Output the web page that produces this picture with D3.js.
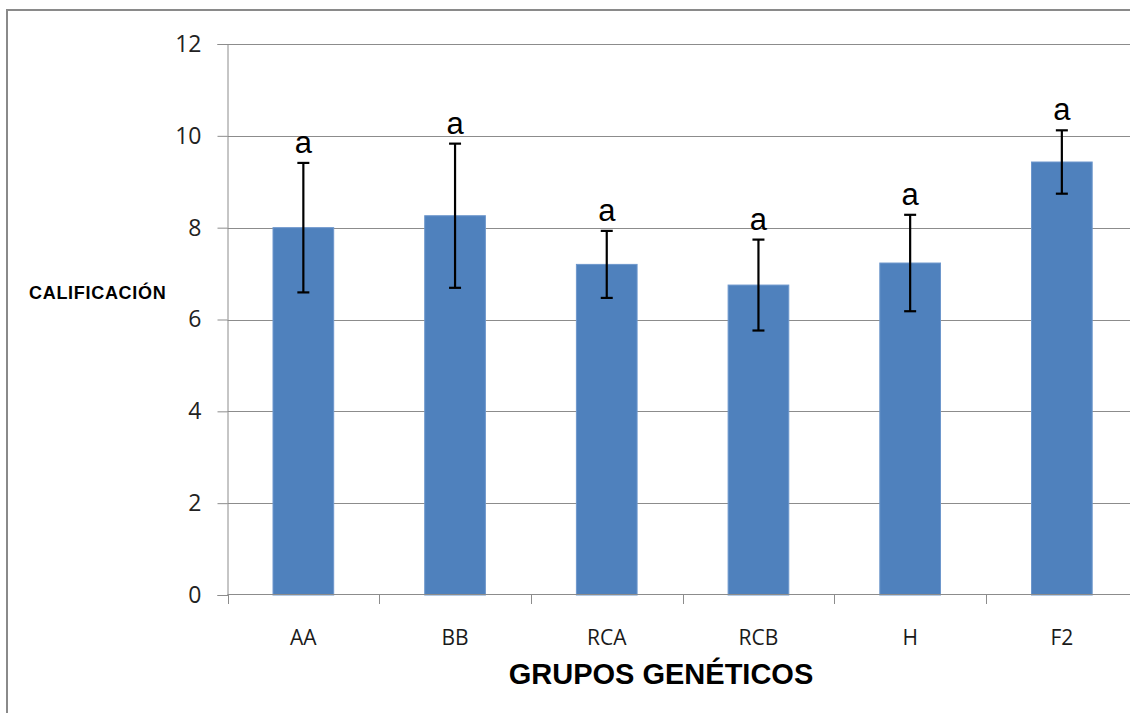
<!DOCTYPE html>
<html>
<head>
<meta charset="utf-8">
<script src="https://cdn.jsdelivr.net/npm/d3@7/dist/d3.min.js"></script>
<style>
  html, body { margin: 0; padding: 0; background: #fff; }
  svg { display: block; }
</style>
</head>
<body>
<svg id="chart" width="1130" height="713"></svg>
<script>
// Calificación media por grupo genético, con desviación y letra de significancia
const categories = ["AA", "BB", "RCA", "RCB", "H", "F2"];
const means = [8.0, 8.26, 7.2, 6.75, 7.23, 9.43];
const errors = [1.41, 1.57, 0.73, 0.99, 1.05, 0.69];
const letters = ["a", "a", "a", "a", "a", "a"];
const yTicks = [0, 2, 4, 6, 8, 10, 12];

(function draw() {
  const svg = d3.select("#chart");
  const W = 1130, H = 713;

  // outer frame
  svg.append("rect")
    .attr("x", 7).attr("y", 10)
    .attr("width", W + 20).attr("height", H + 20)
    .attr("fill", "#fff")
    .attr("stroke", "#8a8a8a")
    .attr("stroke-width", 2);

  const plotLeft = 227.5, plotTop = 44, plotBottom = 595;
  const step = 151.7;
  const plotRight = plotLeft + step * categories.length;

  const x = d3.scaleBand().domain(categories).range([plotLeft, plotRight]).padding(0);
  const y = d3.scaleLinear().domain([0, 12]).range([plotBottom, plotTop]);
  const barW = x.bandwidth() * 0.4;

  const grid = "#8c8c8c";

  // horizontal gridlines
  svg.append("g")
    .selectAll("line")
    .data(yTicks.filter(t => t > 0))
    .join("line")
    .attr("x1", plotLeft).attr("x2", plotRight)
    .attr("y1", d => Math.round(y(d)) + 0.5)
    .attr("y2", d => Math.round(y(d)) + 0.5)
    .attr("stroke", grid).attr("stroke-width", 1);

  // y axis
  const yAxis = svg.append("g")
    .attr("transform", `translate(${plotLeft},0)`)
    .call(d3.axisLeft(y).tickValues(yTicks).tickSize(10).tickPadding(16).tickFormat(d3.format("d")));
  yAxis.select(".domain").attr("stroke", grid);
  yAxis.selectAll(".tick line").attr("stroke", grid);
  yAxis.selectAll(".tick text")
    .attr("font-family", "'Open Sans', sans-serif")
    .attr("font-size", 23)
    .attr("fill", "#222");

  // bars
  svg.append("g")
    .selectAll("rect")
    .data(categories)
    .join("rect")
    .attr("x", d => x(d) + (x.bandwidth() - barW) / 2)
    .attr("width", barW)
    .attr("y", (d, i) => y(means[i]))
    .attr("height", (d, i) => y(0) - y(means[i]))
    .attr("fill", "#4f81bd")
    .attr("stroke", "#6d97cc")
    .attr("stroke-width", 1);

  // x axis with ticks at category boundaries
  svg.append("line")
    .attr("x1", plotLeft).attr("x2", plotRight)
    .attr("y1", plotBottom - 0.5).attr("y2", plotBottom - 0.5)
    .attr("stroke", grid).attr("stroke-width", 1);
  const bounds = categories.map(c => x(c)).concat([plotRight]);
  svg.append("g")
    .selectAll("line")
    .data(bounds)
    .join("line")
    .attr("x1", d => Math.round(d) + 0.5).attr("x2", d => Math.round(d) + 0.5)
    .attr("y1", plotBottom - 0.5).attr("y2", plotBottom + 9)
    .attr("stroke", grid);

  svg.append("g")
    .selectAll("text")
    .data(categories)
    .join("text")
    .attr("x", d => x(d) + x.bandwidth() / 2)
    .attr("y", 645)
    .attr("text-anchor", "middle")
    .attr("font-family", "'Open Sans', sans-serif")
    .attr("font-size", 21)
    .attr("fill", "#1a1a1a")
    .text(d => d);

  // error bars
  const eb = svg.append("g").attr("stroke", "#000").attr("stroke-width", 2.2);
  categories.forEach((c, i) => {
    const cx = x(c) + x.bandwidth() / 2;
    const hi = y(means[i] + errors[i]);
    const lo = y(means[i] - errors[i]);
    eb.append("line").attr("x1", cx).attr("x2", cx).attr("y1", hi).attr("y2", lo);
    eb.append("line").attr("x1", cx - 6).attr("x2", cx + 6).attr("y1", hi).attr("y2", hi);
    eb.append("line").attr("x1", cx - 6).attr("x2", cx + 6).attr("y1", lo).attr("y2", lo);
  });

  // significance letters
  svg.append("g")
    .selectAll("text")
    .data(categories)
    .join("text")
    .attr("x", d => x(d) + x.bandwidth() / 2)
    .attr("y", (d, i) => y(means[i] + errors[i]) - 10)
    .attr("text-anchor", "middle")
    .attr("font-family", "'Liberation Sans', Arial, sans-serif")
    .attr("font-size", 31)
    .attr("fill", "#000")
    .text((d, i) => letters[i]);

  // axis titles
  svg.append("text")
    .attr("x", 29).attr("y", 299)
    .attr("font-family", "'Liberation Sans', Arial, sans-serif")
    .attr("font-weight", "bold")
    .attr("font-size", 18)
    .attr("letter-spacing", 0.7)
    .attr("fill", "#000")
    .text("CALIFICACIÓN");

  svg.append("text")
    .attr("x", 661).attr("y", 684)
    .attr("text-anchor", "middle")
    .attr("font-family", "'Liberation Sans', Arial, sans-serif")
    .attr("font-weight", "bold")
    .attr("font-size", 29)
    .attr("fill", "#000")
    .text("GRUPOS GENÉTICOS");
})();
</script>
</body>
</html>
